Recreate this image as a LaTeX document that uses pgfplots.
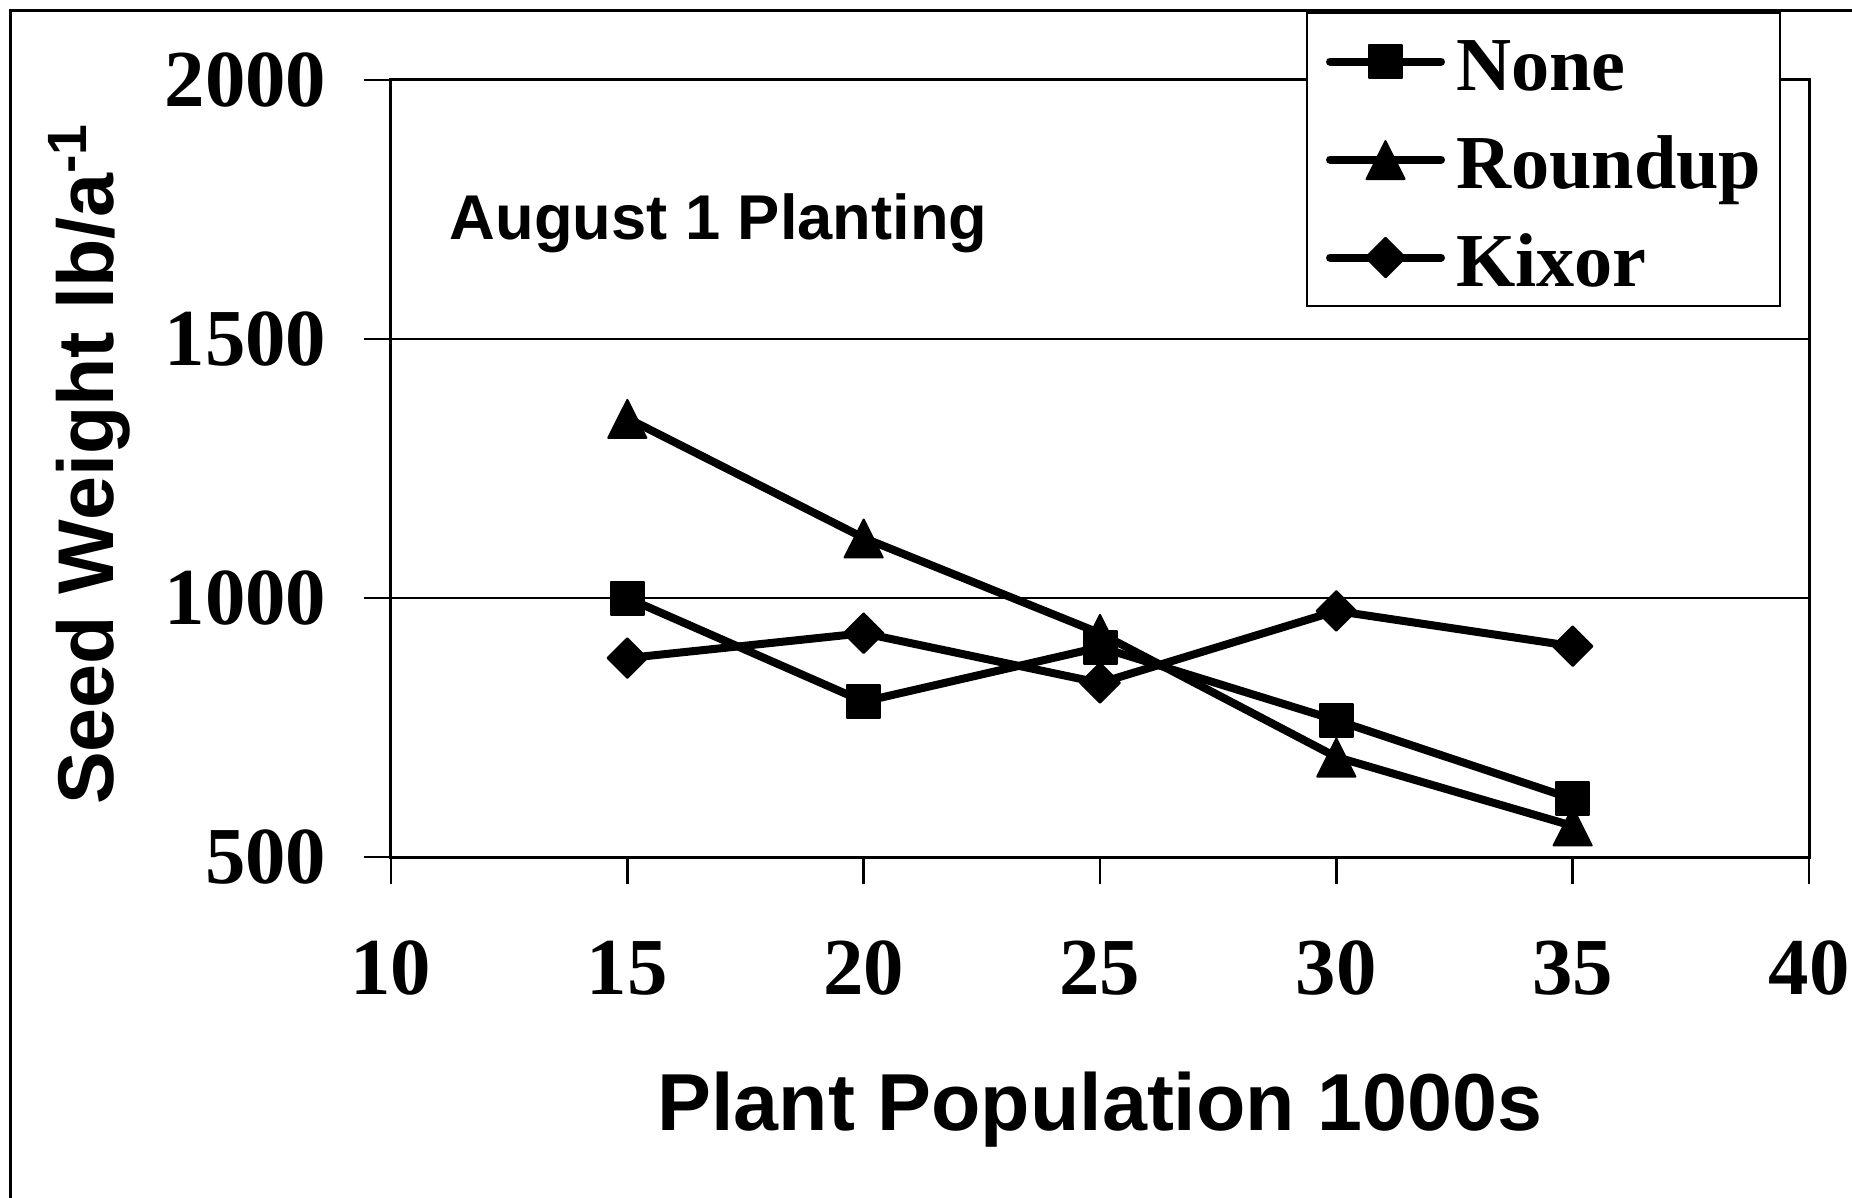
\documentclass[border=0pt]{standalone}
\usepackage{fontspec}
\setmainfont{Liberation Serif}
\newfontfamily\arialfont{Liberation Sans}
\usepackage{pgfplots}
\pgfplotsset{compat=1.18}
\begin{document}
\begin{tikzpicture}
\draw[line width=0.3mm] (1.05mm,-5mm) -- (1.05mm,118.6mm) -- (190mm,118.6mm);
\begin{axis}[
  at={(39.1mm,34.0mm)}, anchor=south west,
  width=141.8mm, height=77.7mm, scale only axis,
  xmin=10, xmax=40, ymin=500, ymax=2000,
  xtick={10,15,...,40}, ytick={500,1000,1500,2000},
  ymajorgrids, major grid style={line width=0.25mm, black},
  axis line style={line width=0.3mm},
  tick style={line width=0.25mm, black},
  tick align=outside, major tick length=2.7mm,
  xtick pos=bottom, ytick pos=left,
  /pgf/number format/assume math mode=true,
  /pgf/number format/set thousands separator={},
  tick label style={font=\fontsize{23}{27}\selectfont\bfseries},
  yticklabel style={anchor=east, inner sep=0pt, xshift=-3.7mm},
  xticklabel style={anchor=north, inner sep=0pt, yshift=-5.6mm},
  xlabel={Plant Population 1000s},
  xlabel style={at={(axis description cs:0.5,-0.3526)}, anchor=base, inner sep=0pt,
    font=\arialfont\bfseries\fontsize{23}{27}\selectfont},
  ylabel={Seed Weight lb/a\textsuperscript{-1}},
  ylabel style={at={(axis description cs:-0.196,0.506)}, anchor=base, inner sep=0pt,
    font=\arialfont\bfseries\fontsize{22.5}{27}\selectfont},
  legend style={
    at={(0.6453,1.0875)}, anchor=north west,
    draw=black, line width=0.2mm, fill=white,
    inner xsep=1.9mm, inner ysep=2.0mm,
    row sep=4.1mm, column sep=1.1mm,
    font=\fontsize{21.7}{26}\selectfont\bfseries,
    nodes={inner sep=0pt, text height=5.7mm, text depth=0pt},
  },
  legend cell align=left,
  legend image code/.code={
    \draw[mark repeat=2, mark phase=2, line cap=round] plot coordinates {(0mm,0mm) (5.55mm,0mm) (11.1mm,0mm)};
  },
]
\addplot[black, line width=0.8mm, line join=round, mark=square*, mark size=1.65mm,
  mark options={line width=0.2mm}]
  coordinates {(15,1000) (20,800) (25,905) (30,764) (35,612)};
\addlegendentry{None}
\addplot[black, line width=0.8mm, line join=round, mark=triangle*, mark size=2.2mm,
  mark options={line width=0.2mm, yscale=1.15, yshift=-0.6mm}]
  coordinates {(15,1347) (20,1116) (25,932) (30,693) (35,560)};
\addlegendentry{Roundup}
\addplot[black, line width=0.8mm, line join=round, mark=square*, mark size=1.4mm,
  mark options={line width=0.2mm, rotate=45}]
  coordinates {(15,884) (20,932) (25,836) (30,975) (35,907)};
\addlegendentry{Kixor}
\node[anchor=west, inner sep=0pt, font=\arialfont\bfseries\fontsize{18}{21}\selectfont]
  at (axis description cs:0.0409,0.815) {August 1 Planting};
\end{axis}
\pgfresetboundingbox
\path[use as bounding box] (0,0) rectangle (185.2mm,119.7mm);
\end{tikzpicture}
\end{document}
